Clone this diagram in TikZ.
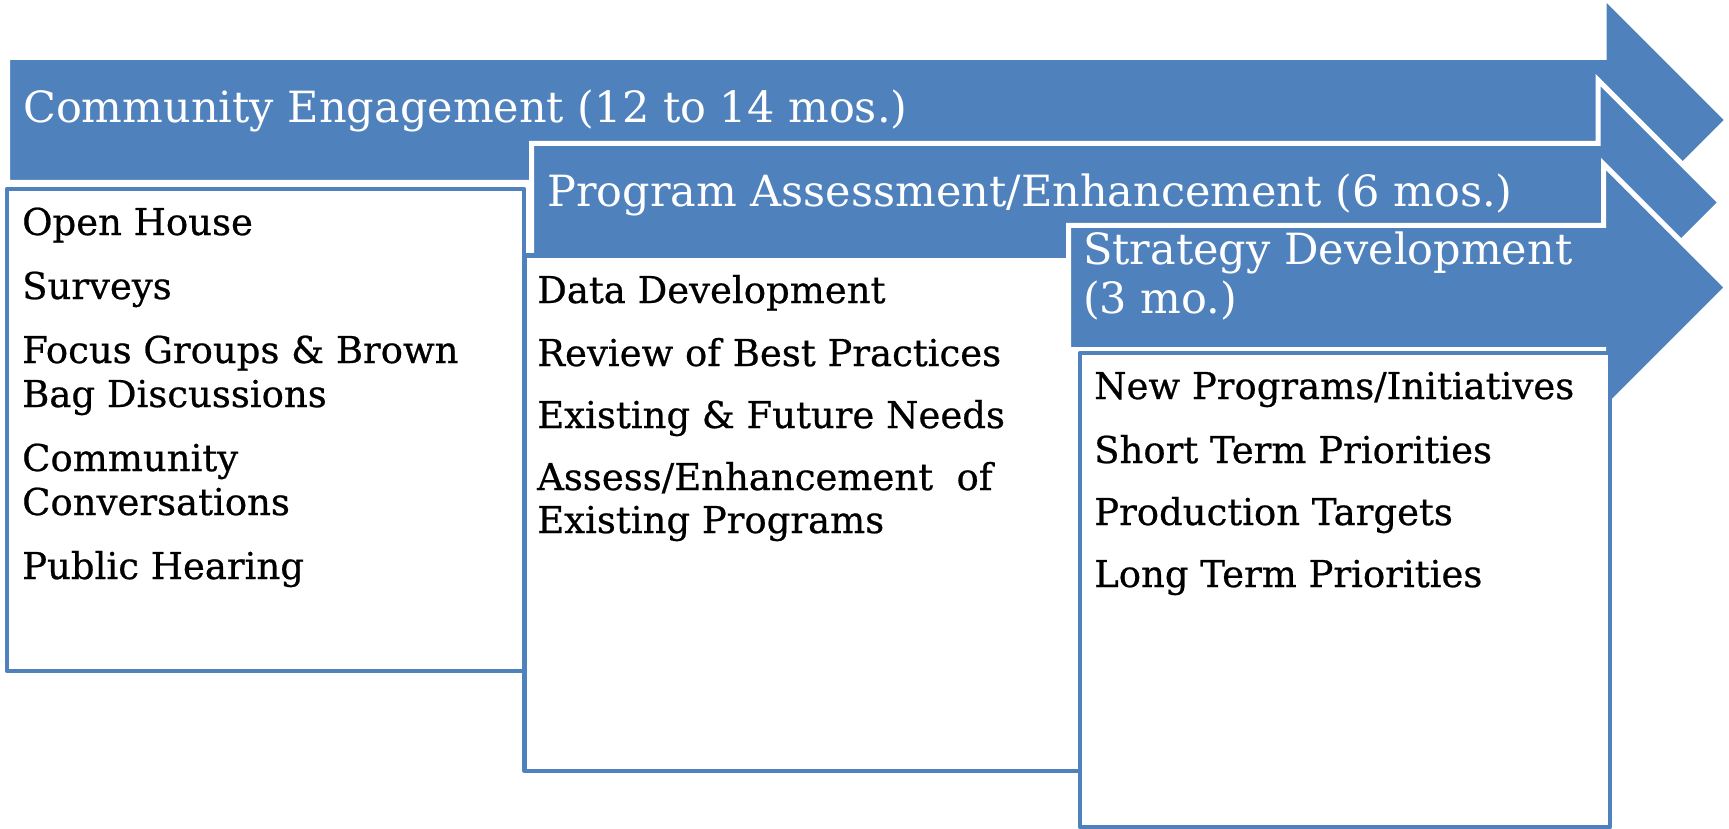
\documentclass[tikz,border=0pt]{standalone}
\usepackage{fontspec}
\setmainfont{DejaVu Serif}
\newfontfamily\itemfont[FakeBold=0.6]{DejaVu Serif}
\definecolor{accent}{RGB}{79,129,189}
\tikzset{
  phase/.style={fill=accent, draw=white, line width=5pt, line join=miter},
  listbox/.style={fill=white, draw=accent, line width=4.5pt, line join=round},
  phasetext/.style={anchor=base west, inner sep=0pt, text=white, font=\fontsize{43}{48}\selectfont},
  itemtext/.style={anchor=base west, inner sep=0pt, font=\itemfont\fontsize{37}{44}\selectfont},
}

\begin{document}
\begin{tikzpicture}[x=1pt,y=-1pt]
  \useasboundingbox (0,0) rectangle (1729,829);
  % community engagement
  \draw[phase] (7.5,57.5) -- (1604,57.5) -- (1604,-3.5) -- (1727.5,120) -- (1604,243.5) -- (1604,182.5) -- (7.5,182.5) -- cycle;
  \node[phasetext] (engage) at (23,123) {Community Engagement (12 to 14 mos.)};
  \draw[listbox] (7,189) rectangle (524,671);
  \node[itemtext] (house) at (22,235) {Open House};
  \node[itemtext] (surveys) at (22,299) {Surveys};
  \node[itemtext] (focus) at (22,363) {Focus Groups \& Brown};
  \node[itemtext] (brownbag) at (22,407) {Bag Discussions};
  \node[itemtext] (commconv) at (22,471) {Community};
  \node[itemtext] (conv) at (22,515) {Conversations};
  \node[itemtext] (hearing) at (22,579) {Public Hearing};
  % program assessment
  \draw[phase] (531.5,143.5) -- (1598,143.5) -- (1598,80) -- (1720.5,202.5) -- (1598,325) -- (1598,261.5) -- (531.5,261.5) -- cycle;
  \node[phasetext] (assess) at (547,207) {Program Assessment/Enhancement (6 mos.)};
  \draw[listbox] (524.5,255.5) rectangle (1080,771);
  \node[itemtext] (data) at (537,303) {Data Development};
  \node[itemtext] (review) at (537,366) {Review of Best Practices};
  \node[itemtext] (needs) at (537,428) {Existing \& Future Needs};
  \node[itemtext] (enhance) at (537,490) {Assess/Enhancement\ \ of};
  \node[itemtext] (existing) at (537,533) {Existing Programs};
  % strategy development
  \draw[phase] (1068.5,225.5) -- (1603.5,225.5) -- (1603.5,164) -- (1727,287.5) -- (1603.5,411) -- (1603.5,349.5) -- (1068.5,349.5) -- cycle;
  \node[phasetext] (strategy) at (1083,264) {Strategy Development};
  \node[phasetext] (months) at (1083,313) {(3 mo.)};
  \draw[listbox] (1080,353) rectangle (1610,827);
  \node[itemtext] (newprog) at (1094,399) {New Programs/Initiatives};
  \node[itemtext] (shortterm) at (1094,463) {Short Term Priorities};
  \node[itemtext] (targets) at (1094,525) {Production Targets};
  \node[itemtext] (longterm) at (1094,587) {Long Term Priorities};
\end{tikzpicture}
\end{document}
